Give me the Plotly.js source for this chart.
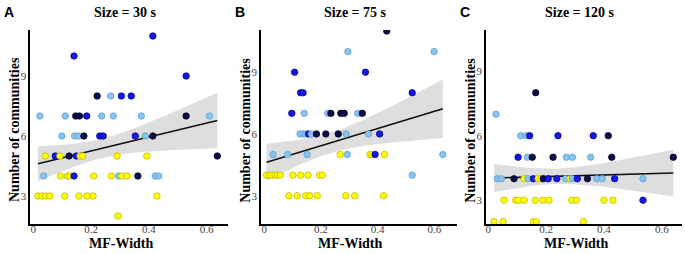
<!DOCTYPE html>
<html>
<head>
<meta charset="utf-8">
<script src="https://cdn.plot.ly/plotly-3.0.1.min.js"></script>
<style>html,body{margin:0;padding:0;background:#fff;}#chart{width:685px;height:254px;}</style>
</head>
<body>
<div id="chart"></div>
<script>
// ---------- data ----------
var panelTitles = ["Size = 30 s", "Size = 75 s", "Size = 120 s"];
var panelLetters = ["A", "B", "C"];
var xTickVals = [0, 0.2, 0.4, 0.6];
var xTickText = ["0", "0.2", "0.4", "0.6"];
var yTickVals = [3, 6, 9];
var yTickText = ["3", "6", "9"];
var xTitle = "MF-Width";
var yTitle = "Number of communities";

// group codes: Y = yellow, L = light blue, B = blue, N = navy
var aX = [0.414, 0.141, 0.529,
  0.221, 0.268, 0.305, 0.339,
  0.023, 0.111, 0.147, 0.160, 0.185, 0.237, 0.277, 0.374, 0.529, 0.610,
  0.099, 0.143, 0.155, 0.175, 0.230, 0.242, 0.353, 0.388, 0.414,
  0.042, 0.076, 0.092, 0.124, 0.149, 0.162, 0.171, 0.290, 0.393, 0.637,
  0.036, 0.094, 0.118, 0.126, 0.141, 0.209, 0.270, 0.296, 0.306, 0.325, 0.362, 0.422, 0.434,
  0.016, 0.030, 0.042, 0.057, 0.109, 0.158, 0.186, 0.207, 0.428,
  0.293];
var aY = [11, 10, 9,
  8, 8, 8, 8,
  7, 7, 7, 7, 7, 7, 7, 7, 7, 7,
  6, 6, 6, 6, 6, 6, 6, 6, 6,
  5, 5, 5, 5, 5, 5, 5, 5, 5, 5,
  4, 4, 4, 4, 4, 4, 4, 4, 4, 4, 4, 4, 4,
  3, 3, 3, 3, 3, 3, 3, 3, 3,
  2];
var aG = ["B", "B", "B",
  "N", "L", "B", "B",
  "L", "L", "N", "N", "B", "L", "L", "L", "N", "L",
  "L", "L", "L", "N", "B", "B", "B", "L", "N",
  "Y", "B", "Y", "N", "B", "Y", "Y", "Y", "Y", "N",
  "L", "Y", "Y", "Y", "B", "Y", "Y", "L", "Y", "Y", "N", "L", "L",
  "Y", "Y", "Y", "Y", "Y", "Y", "Y", "Y", "Y",
  "Y"];

var bX = [0.432,
  0.295, 0.599,
  0.107, 0.357,
  0.128, 0.137, 0.522,
  0.097, 0.141, 0.224, 0.235, 0.270, 0.282, 0.330, 0.346,
  0.126, 0.137, 0.146, 0.156, 0.166, 0.184, 0.217, 0.261, 0.289, 0.368, 0.407,
  0.031, 0.082, 0.151, 0.268, 0.293, 0.373, 0.380, 0.391, 0.424, 0.630,
  0.008, 0.018, 0.027, 0.038, 0.047, 0.056, 0.101, 0.128, 0.154, 0.195, 0.205, 0.522,
  0.087, 0.116, 0.146, 0.160, 0.187, 0.287, 0.319, 0.421];
var bY = [11,
  10, 10,
  9, 9,
  8, 8, 8,
  7, 7, 7, 7, 7, 7, 7, 7,
  6, 6, 6, 6, 6, 6, 6, 6, 6, 6, 6,
  5, 5, 5, 5, 5, 5, 5, 5, 5, 5,
  4, 4, 4, 4, 4, 4, 4, 4, 4, 4, 4, 4,
  3, 3, 3, 3, 3, 3, 3, 3];
var bG = ["N",
  "L", "L",
  "B", "B",
  "B", "B", "B",
  "B", "L", "L", "N", "N", "N", "L", "N",
  "L", "L", "L", "B", "L", "N", "N", "N", "L", "L", "B",
  "L", "L", "L", "Y", "L", "Y", "Y", "B", "Y", "L",
  "Y", "Y", "Y", "Y", "Y", "Y", "Y", "Y", "Y", "Y", "Y", "L",
  "Y", "Y", "Y", "Y", "Y", "Y", "Y", "Y"];

var cX = [0.164,
  0.027,
  0.112, 0.131, 0.143, 0.241, 0.363, 0.415,
  0.103, 0.135, 0.152, 0.224, 0.270, 0.291, 0.354, 0.427, 0.640,
  0.031, 0.045, 0.089, 0.124, 0.137, 0.156, 0.172, 0.182, 0.190, 0.207, 0.237, 0.268, 0.283, 0.291, 0.308, 0.343, 0.375, 0.394, 0.437, 0.535,
  0.054, 0.095, 0.104, 0.124, 0.162, 0.189, 0.210, 0.289, 0.305, 0.400, 0.431, 0.535,
  0.020, 0.051, 0.156, 0.166, 0.329];
var cY = [8,
  7,
  6, 6, 6, 6, 6, 6,
  5, 5, 5, 5, 5, 5, 5, 5, 5,
  4, 4, 4, 4, 4, 4, 4, 4, 4, 4, 4, 4, 4, 4, 4, 4, 4, 4, 4, 4,
  3, 3, 3, 3, 3, 3, 3, 3, 3, 3, 3, 3,
  2, 2, 2, 2, 2];
var cG = ["N",
  "L",
  "L", "L", "B", "B", "B", "N",
  "B", "L", "N", "N", "L", "L", "L", "N", "N",
  "L", "L", "N", "Y", "L", "B", "Y", "Y", "N", "B", "B", "L", "Y", "L", "B", "N", "L", "L", "B", "L",
  "Y", "Y", "Y", "Y", "Y", "Y", "Y", "Y", "Y", "Y", "Y", "B",
  "Y", "Y", "Y", "Y", "Y"];

// ---------- styling ----------
var groupFill = {Y: "#ffff00", L: "#88c4ef", B: "#1717e0", N: "#0a0a48"};
var groupEdge = {Y: "#b8b000", L: "#5f9ccc", B: "#00009a", N: "#000020"};
var serif = "Liberation Serif, Times New Roman, serif";
var sans = "Liberation Sans, Arial, sans-serif";
var W = 685, H = 254;
var xPix = [[30, 228], [260.7, 457], [485.7, 682]];
var xRanges = [[-0.0114, 0.674], [-0.0127, 0.680], [-0.009, 0.670]];
var yRanges = [[1.6, 11.3], [1.626, 11.05], [1.893, 10.916]];
var yDom = [30 / H, 224 / H];

// ---------- helpers: OLS fit with 95% confidence band ----------
function tQuant975(df) {
  var z = 1.959964, z3 = z * z * z, z5 = z3 * z * z, z7 = z5 * z * z;
  return z + (z3 + z) / (4 * df) + (5 * z5 + 16 * z3 + 3 * z) / (96 * df * df) +
    (3 * z7 + 19 * z5 + 17 * z3 - 15 * z) / (384 * df * df * df);
}
function fitBand(xs, ys) {
  var n = xs.length, mx = 0, my = 0, i;
  for (i = 0; i < n; i++) { mx += xs[i]; my += ys[i]; }
  mx /= n; my /= n;
  var sxx = 0, sxy = 0;
  for (i = 0; i < n; i++) { sxx += (xs[i] - mx) * (xs[i] - mx); sxy += (xs[i] - mx) * (ys[i] - my); }
  var b = sxy / sxx, a = my - b * mx, sse = 0;
  for (i = 0; i < n; i++) { var r = ys[i] - a - b * xs[i]; sse += r * r; }
  var s = Math.sqrt(sse / (n - 2)), t = tQuant975(n - 2);
  var lo = Math.min.apply(null, xs), hi = Math.max.apply(null, xs);
  var gx = [], gy = [], up = [], dn = [];
  for (i = 0; i <= 80; i++) {
    var x = lo + (hi - lo) * i / 80, yh = a + b * x;
    var se = s * Math.sqrt(1 / n + (x - mx) * (x - mx) / sxx);
    gx.push(x); gy.push(yh); up.push(yh + t * se); dn.push(yh - t * se);
  }
  return {x: gx, y: gy, up: up, dn: dn};
}

var panels = [[aX, aY, aG], [bX, bY, bG], [cX, cY, cG]];
var traces = [], annotations = [];
var layout = {
  width: W, height: H,
  margin: {l: 0, r: 0, t: 0, b: 0, pad: 0},
  paper_bgcolor: "#ffffff", plot_bgcolor: "#ffffff",
  showlegend: false,
  font: {family: serif, color: "#000"}
};

panels.forEach(function (p, k) {
  var sfx = k === 0 ? "" : String(k + 1);
  var xa = "x" + sfx, ya = "y" + sfx;
  var fit = fitBand(p[0], p[1]);
  traces.push({x: fit.x, y: fit.dn, xaxis: xa, yaxis: ya, mode: "lines", line: {width: 0, color: "rgba(0,0,0,0)"}, hoverinfo: "skip"});
  traces.push({x: fit.x, y: fit.up, xaxis: xa, yaxis: ya, mode: "lines", line: {width: 0, color: "rgba(0,0,0,0)"}, fill: "tonexty", fillcolor: "rgba(153,153,153,0.32)", hoverinfo: "skip"});
  traces.push({x: fit.x, y: fit.y, xaxis: xa, yaxis: ya, mode: "lines", line: {width: 1.6, color: "#111111"}, hoverinfo: "skip"});
  traces.push({
    x: p[0], y: p[1], xaxis: xa, yaxis: ya, mode: "markers",
    marker: {size: 6.5, color: p[2].map(function (g) { return groupFill[g]; }),
      line: {width: 0.7, color: p[2].map(function (g) { return groupEdge[g]; })}}
  });
  var d0 = xPix[k][0] / W, d1 = xPix[k][1] / W;
  layout["xaxis" + sfx] = {
    domain: [d0, d1], anchor: ya, range: xRanges[k],
    tickvals: xTickVals, ticktext: xTickText, ticks: "", ticklabelstandoff: -6,
    tickfont: {family: serif, size: 11, color: "#444"},
    showline: true, linecolor: "#000", linewidth: 1.6, mirror: false,
    showgrid: false, zeroline: false, automargin: false
  };
  layout["yaxis" + sfx] = {
    domain: yDom, anchor: xa, range: yRanges[k],
    tickvals: yTickVals, ticktext: yTickText, ticks: "",
    tickfont: {family: serif, size: 11, color: "#444"},
    showline: true, linecolor: "#000", linewidth: 1.6,
    showgrid: false, zeroline: false, automargin: false
  };
  var xr = xRanges[k];
  var titleX = (xPix[k][0] + (xPix[k][1] - xPix[k][0]) * (0.305 - xr[0]) / (xr[1] - xr[0])) / W;
  annotations.push({text: "<b>" + xTitle + "</b>", xref: "paper", yref: "paper", x: titleX, y: 1 - 243.5 / H,
    xanchor: "center", yanchor: "middle", showarrow: false, font: {family: serif, size: 14, color: "#000"}});
  annotations.push({text: "<b>" + yTitle + "</b>", xref: "paper", yref: "paper", x: (xPix[k][0] - 16) / W, y: 1 - 130 / H,
    xanchor: "center", yanchor: "middle", textangle: -90, showarrow: false, font: {family: serif, size: 14, color: "#000"}});
  annotations.push({text: "<b>" + panelTitles[k] + "</b>", xref: "paper", yref: "paper", x: ((xPix[k][0] + xPix[k][1]) / 2 - 3.5) / W, y: 1 - 12 / H,
    xanchor: "center", yanchor: "middle", showarrow: false, font: {family: serif, size: 14, color: "#000"}});
  annotations.push({text: "<b>" + panelLetters[k] + "</b>", xref: "paper", yref: "paper", x: (xPix[k][0] - 21) / W, y: 1 - 12 / H,
    xanchor: "center", yanchor: "middle", showarrow: false, font: {family: sans, size: 14, color: "#000"}});
});
layout.annotations = annotations;

Plotly.newPlot("chart", traces, layout, {staticPlot: true, displayModeBar: false});
</script>
</body>
</html>
